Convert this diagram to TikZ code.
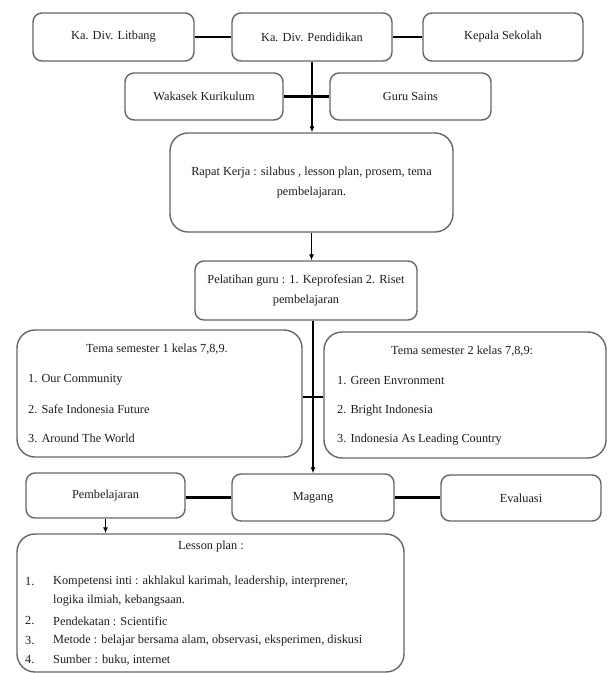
\documentclass[tikz,border=0pt]{standalone}
\usepackage{fontspec}
\setmainfont{Liberation Serif}
\usetikzlibrary{arrows.meta}
\definecolor{boxline}{HTML}{666666}
\definecolor{ink}{HTML}{1C1C1C}
\tikzset{
  every node/.style={text=ink, font=\fontsize{12.3}{20}\selectfont},
  box/.style={draw=boxline, line width=1.4pt, rounded corners=9pt, inner sep=0pt, align=center},
  bigbox/.style={box, rounded corners=18pt},
  label/.style={inner sep=0pt, anchor=west},
  link/.style={draw=black, line width=2.2pt},
  arr/.style={draw=black, line width=1.3pt, -{Latex[length=6pt,width=5pt]}},
}
\begin{document}
\begin{tikzpicture}[x=1pt, y=-1pt]
\useasboundingbox (0,0) rectangle (608,673);

% top row
\node[box, minimum width=161pt, minimum height=48pt] (lit)  at (113.5,37) {Ka. Div. Litbang};
\node[box, minimum width=160pt, minimum height=48pt] (pend) at (312,37)   {Ka. Div. Pendidikan};
\node[box, minimum width=160pt, minimum height=48pt] (kep)  at (503,37)   {Kepala Sekolah};

% second row
\node[box, minimum width=158pt, minimum height=47pt] (wak)  at (204,96.5)   {Wakasek Kurikulum};
\node[box, minimum width=161pt, minimum height=47pt] (guru) at (410.5,96.5) {Guru Sains};

% meeting and training
\node[bigbox, minimum width=283pt, minimum height=99pt] (rapat) at (311.5,182.5)
  {Rapat Kerja : silabus , lesson plan, prosem, tema\\pembelajaran.};
\node[box, minimum width=222pt, minimum height=59pt] (pel) at (306,290.5)
  {\fontsize{12.3}{22}\selectfont Pelatihan guru : 1. Keprofesian 2. Riset\\pembelajaran};

% semester themes
\node[bigbox, minimum width=285pt, minimum height=127pt] (tema1) at (159.5,393.5) {};
\node[bigbox, minimum width=282pt, minimum height=126pt] (tema2) at (465,395) {};

\node[label] (t1h) at (86,349)  {Tema semester 1 kelas 7,8,9.};
\node[label] (t1a) at (28,380)  {1. Our Community};
\node[label] (t1b) at (28,409)  {2. Safe Indonesia Future};
\node[label] (t1c) at (28,438)  {3. Around The World};

\node[label] (t2h) at (391,351) {Tema semester 2 kelas 7,8,9:};
\node[label] (t2a) at (337,381) {1. Green Envronment};
\node[label] (t2b) at (337,411) {2. Bright Indonesia};
\node[label] (t2c) at (337,440) {3. Indonesia As Leading Country};

% bottom row
\node[box, minimum width=159pt, minimum height=45pt] (pemb) at (105.5,495.5) {Pembelajaran};
\node[box, minimum width=162pt, minimum height=47pt] (mag)  at (313,497.5)   {Magang};
\node[box, minimum width=160pt, minimum height=46pt] (eval) at (521,498)     {Evaluasi};

% lesson plan
\node[bigbox, minimum width=387pt, minimum height=138pt] (lesson) at (210.5,603) {};
\node[inner sep=0pt] (lph) at (211,547) {Lesson plan :};
\node[label] (n1) at (25,582) {1.};
\node[label] (l1) at (53,582) {Kompetensi inti : akhlakul karimah, leadership, interprener,};
\node[label] (l1b) at (53,601) {logika ilmiah, kebangsaan.};
\node[label] (n2) at (25,621) {2.};
\node[label] (l2) at (53,621) {Pendekatan : Scientific};
\node[label] (n3) at (25,641) {3.};
\node[label] (l3) at (53,641) {Metode : belajar bersama alam, observasi, eksperimen, diskusi};
\node[label] (n4) at (25,660) {4.};
\node[label] (l4) at (53,660) {Sumber : buku, internet};

% connectors
\coordinate (cross) at (0,397);
\draw[link] (lit.east) -- (pend.west);
\draw[link] (pend.east) -- (kep.west);
\draw[link] (wak.east) -- (guru.west);
\draw[arr] (pend.south) -- (pend.south |- rapat.north);
\draw[arr] (rapat.south) -- (rapat.south |- pel.north);
\draw[link] (tema1.east |- cross) -- (tema2.west |- cross);
\draw[arr] (pel.south -| mag.north) -- (mag.north);
\draw[link] (pemb.east |- mag.west) -- (mag.west);
\draw[link] (mag.east) -- (mag.east -| eval.west);
\draw[arr] (pemb.south) -- (pemb.south |- lesson.north);
\end{tikzpicture}
\end{document}
